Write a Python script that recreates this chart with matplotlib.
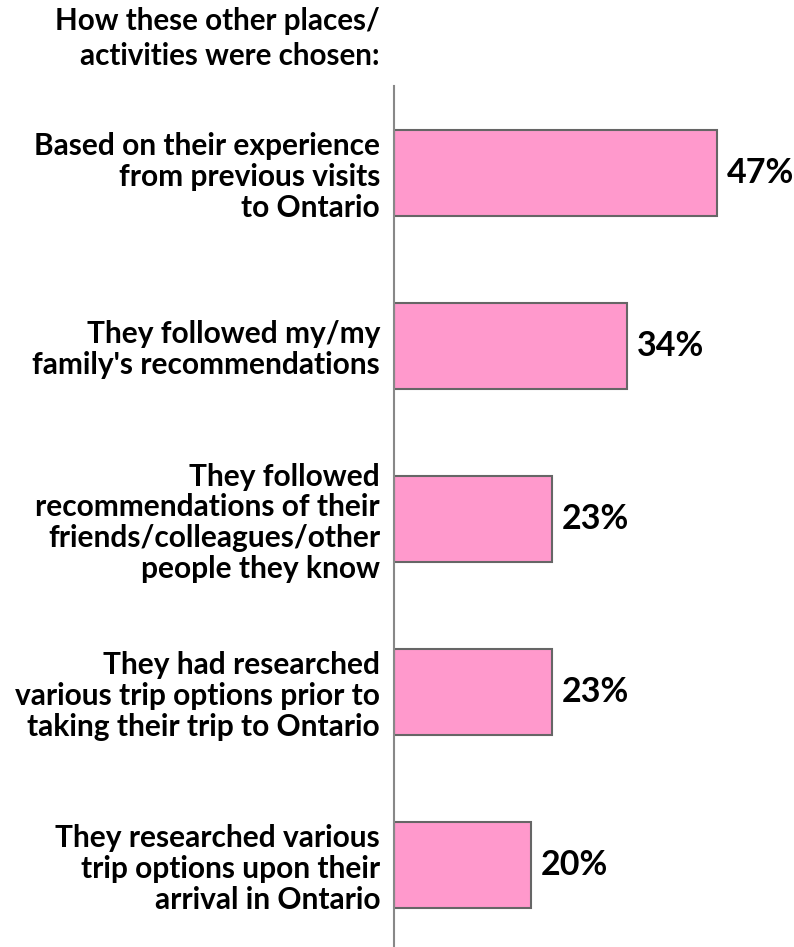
import matplotlib
matplotlib.use("Agg")
import matplotlib.pyplot as plt

# data
categories = [
    "Based on their experience\nfrom previous visits\nto Ontario",
    "They followed my/my\nfamily's recommendations",
    "They followed\nrecommendations of their\nfriends/colleagues/other\npeople they know",
    "They had researched\nvarious trip options prior to\ntaking their trip to Ontario",
    "They researched various\ntrip options upon their\narrival in Ontario",
]
values = [47, 34, 23, 23, 20]
value_labels = ["47%", "34%", "23%", "23%", "20%"]
title_text = "How these other places/\nactivities were chosen:"

plt.rcParams["font.family"] = ["Lato", "DejaVu Sans"]
plt.rcParams["font.weight"] = "bold"

fig = plt.figure(figsize=(7.94, 9.47), dpi=100)
# axes placed so the axis line sits where the reference has it
ax = fig.add_axes([394 / 794, 1 - 951.5 / 947, 412 / 794, 865 / 947])

ypos = list(range(len(categories)))
ax.barh(ypos, values, height=0.5, color="#FF99CC", edgecolor="#666666", linewidth=1.5, zorder=2)

ax.set_xlim(0, 60)
ax.set_ylim(len(categories) - 0.5, -0.5)

ax.set_yticks(ypos)
ax.set_yticklabels(categories, fontsize=21.5, fontweight="bold", ha="right", linespacing=1.12)
ax.tick_params(axis="y", length=0, pad=10)
ax.set_xticks([])

for sp in ["top", "right", "bottom"]:
    ax.spines[sp].set_visible(False)
ax.spines["left"].set_color("#888888")
ax.spines["left"].set_linewidth(1.5)

for y, v, lab in zip(ypos, values, value_labels):
    ax.text(v + 1.4, y, lab, va="center", ha="left", fontsize=24.5, fontweight="bold", color="black")

fig.text(380 / 794, 1 - 7 / 947, title_text, ha="right", va="top", fontsize=21.3,
         fontweight="bold", linespacing=1.3)

fig.savefig("out.png", dpi=100)
